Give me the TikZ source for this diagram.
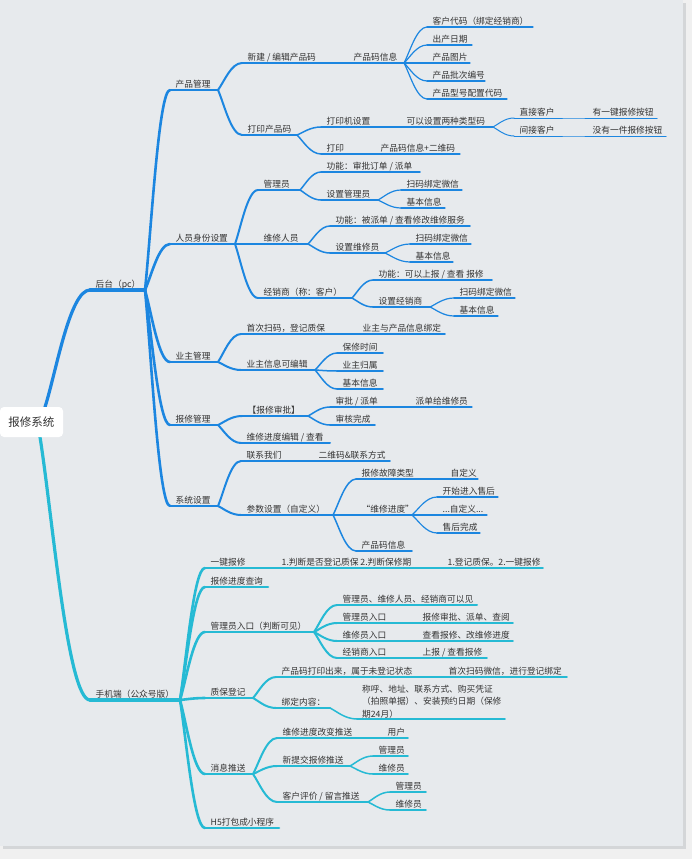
\documentclass[tikz,border=0pt]{standalone}
\usepackage{fontspec}
\newfontfamily\cjk{Noto Sans CJK SC}
\usetikzlibrary{calc}
\definecolor{bl}{HTML}{1C86E0}
\definecolor{tl}{HTML}{26BAD4}
\definecolor{tx}{HTML}{333333}
\definecolor{pan}{HTML}{E7EAED}
\definecolor{outc}{HTML}{F0F0F0}
\definecolor{shd}{HTML}{D4D6D8}
\tikzset{
  lbl/.style={font=\cjk\fontsize{8.7}{12.5}\selectfont, text=tx, inner sep=0pt, anchor=base west},
  rootbox/.style={font=\cjk\fontsize{11.5}{14}\selectfont, text=tx, fill=white, rounded corners=4pt,
    minimum width=63pt, minimum height=30pt, inner sep=0pt},
  wA/.style={line width=3.2pt, line cap=round},
  wB/.style={line width=2.6pt, line cap=round},
  wC/.style={line width=2.0pt, line cap=round},
  wD/.style={line width=1.5pt, line cap=round},
  wE/.style={line width=1.2pt, line cap=round},
  wF/.style={line width=1.0pt, line cap=round},
}
% node with underline: name, style, start x, line y, end x, text
\newcommand\nd[6]{%
  \coordinate (#1s) at (#3,#4);
  \coordinate (#1e) at (#5,#4);
  \draw[#2] (#1s) -- (#1e);
  \node[lbl] (#1) at ($(#1s)+(5.5,-2.8)$) {#6};}
% curved connector
\newcommand\cn[3]{\draw[#1] (#2) let \p1=(#2), \p2=(#3) in
  .. controls ({\x1+0.25*(\x2-\x1)},{\y1+0.3*(\y2-\y1)}) and ({\x1+0.55*(\x2-\x1)},{\y2}) .. (#3);}
\begin{document}
\begin{tikzpicture}[x=1pt,y=-1pt]
\useasboundingbox (0,0) rectangle (692,859);
\fill[outc] (0,0) rectangle (692,859);
\fill[shd] (3,3) rectangle (686,849);
\fill[pan] (0,0) rectangle (683,846);

\coordinate (rt) at (45,407);
\coordinate (rb) at (40,437);

% ===== 后台 =====
\nd{hou}{wA,bl}{90}{290}{145}{后台（pc）}
\cn{wA,bl}{rt}{hous}
\nd{cp}{wB,bl}{170}{90}{218}{产品管理}
\nd{ry}{wB,bl}{170}{244}{235}{人员身份设置}
\nd{yz}{wB,bl}{170}{362}{218}{业主管理}
\nd{bx}{wB,bl}{170}{425}{218}{报修管理}
\nd{xt}{wB,bl}{170}{506}{218}{系统设置}
\foreach \c in {cp,ry,yz,bx,xt} {\cn{wB,bl}{houe}{\c s}}

% 产品管理
\nd{xj}{wC,bl}{242}{63}{320}{新建 / 编辑产品码}
\nd{dy}{wC,bl}{242}{135}{297}{打印产品码}
\cn{wC,bl}{cpe}{xjs}
\cn{wC,bl}{cpe}{dys}
\nd{cpm}{wD,bl}{348}{63}{404}{产品码信息}
\cn{wD,bl}{xje}{cpms}
\nd{ka}{wE,bl}{427}{27}{533}{客户代码（绑定经销商）}
\nd{kb}{wE,bl}{427}{45}{472}{出产日期}
\nd{kc}{wE,bl}{427}{63}{470}{产品图片}
\nd{kd}{wE,bl}{427}{81}{485}{产品批次编号}
\nd{ke}{wE,bl}{427}{99}{507}{产品型号配置代码}
\foreach \c in {ka,kb,kc,kd,ke} {\cn{wE,bl}{cpme}{\c s}}
\nd{dyj}{wD,bl}{321}{127}{373}{打印机设置}
\nd{dyy}{wD,bl}{321}{154}{348}{打印}
\cn{wD,bl}{dye}{dyjs}
\cn{wD,bl}{dye}{dyys}
\nd{ky}{wE,bl}{401}{127}{493}{可以设置两种类型码}
\cn{wE,bl}{dyje}{kys}
\nd{dym}{wE,bl}{375}{154}{460}{产品码信息+二维码}
\cn{wE,bl}{dyye}{dyms}
\nd{zj}{wF,bl}{514}{118}{560}{直接客户}
\nd{jj}{wF,bl}{514}{136}{560}{间接客户}
\cn{wF,bl}{kye}{zjs}
\cn{wF,bl}{kye}{jjs}
\nd{zja}{wF,bl}{587}{118}{657}{有一键报修按钮}
\nd{jja}{wF,bl}{587}{136}{666}{没有一件报修按钮}
\cn{wF,bl}{zje}{zjas}
\cn{wF,bl}{jje}{jjas}

% 人员身份设置
\nd{gl}{wC,bl}{258}{190}{300}{管理员}
\nd{wx}{wC,bl}{258}{244}{308}{维修人员}
\nd{jx}{wC,bl}{258}{298}{352}{经销商（称：客户）}
\foreach \c in {gl,wx,jx} {\cn{wC,bl}{rye}{\c s}}
\nd{glgn}{wD,bl}{321}{172}{420}{功能：审批订单 / 派单}
\nd{glsz}{wD,bl}{321}{200}{378}{设置管理员}
\cn{wD,bl}{gle}{glgns}
\cn{wD,bl}{gle}{glszs}
\nd{gla}{wE,bl}{401}{190}{462}{扫码绑定微信}
\nd{glb}{wE,bl}{401}{208}{445}{基本信息}
\cn{wE,bl}{glsze}{glas}
\cn{wE,bl}{glsze}{glbs}
\nd{wxgn}{wD,bl}{330}{226}{470}{功能：被派单 / 查看修改维修服务}
\nd{wxsz}{wD,bl}{330}{253}{385}{设置维修员}
\cn{wD,bl}{wxe}{wxgns}
\cn{wD,bl}{wxe}{wxszs}
\nd{wxa}{wE,bl}{410}{244}{471}{扫码绑定微信}
\nd{wxb}{wE,bl}{410}{262}{453}{基本信息}
\cn{wE,bl}{wxsze}{wxas}
\cn{wE,bl}{wxsze}{wxbs}
\nd{jxgn}{wD,bl}{373}{280}{492}{功能：可以上报 / 查看 报修}
\nd{jxsz}{wD,bl}{373}{307}{430}{设置经销商}
\cn{wD,bl}{jxe}{jxgns}
\cn{wD,bl}{jxe}{jxszs}
\nd{jxa}{wE,bl}{454}{298}{515}{扫码绑定微信}
\nd{jxb}{wE,bl}{454}{316}{498}{基本信息}
\cn{wE,bl}{jxsze}{jxas}
\cn{wE,bl}{jxsze}{jxbs}

% 业主管理
\nd{sc}{wC,bl}{241}{334}{330}{首次扫码，登记质保}
\nd{yx}{wC,bl}{241}{370}{315}{业主信息可编辑}
\cn{wC,bl}{yze}{scs}
\cn{wC,bl}{yze}{yxs}
\nd{scb}{wD,bl}{357}{334}{445}{业主与产品信息绑定}
\cn{wD,bl}{sce}{scbs}
\nd{yxa}{wD,bl}{337}{353}{383}{保修时间}
\nd{yxb}{wD,bl}{337}{371}{383}{业主归属}
\nd{yxc}{wD,bl}{337}{389}{383}{基本信息}
\foreach \c in {yxa,yxb,yxc} {\cn{wD,bl}{yxe}{\c s}}

% 报修管理
\nd{sp}{wC,bl}{242}{416}{308}{【报修审批】}
\nd{jd}{wC,bl}{241}{443}{330}{维修进度编辑 / 查看}
\cn{wC,bl}{bxe}{sps}
\cn{wC,bl}{bxe}{jds}
\nd{spa}{wD,bl}{330}{407}{385}{审批 / 派单}
\nd{spb}{wD,bl}{330}{425}{375}{审核完成}
\cn{wD,bl}{spe}{spas}
\cn{wD,bl}{spe}{spbs}
\nd{spc}{wE,bl}{410}{407}{472}{派单给维修员}
\cn{wE,bl}{spae}{spcs}

% 系统设置
\nd{lx}{wC,bl}{241}{461}{287}{联系我们}
\nd{cs}{wC,bl}{241}{515}{333}{参数设置（自定义）}
\cn{wC,bl}{xte}{lxs}
\cn{wC,bl}{xte}{css}
\nd{lxa}{wD,bl}{313}{461}{390}{二维码\&联系方式}
\cn{wD,bl}{lxe}{lxas}
\nd{csa}{wD,bl}{356}{479}{418}{报修故障类型}
\nd{csb}{wD,bl}{356}{515}{412}{“维修进度”}
\nd{csc}{wD,bl}{356}{551}{412}{产品码信息}
\foreach \c in {csa,csb,csc} {\cn{wD,bl}{cse}{\c s}}
\nd{csaa}{wE,bl}{445}{479}{478}{自定义}
\cn{wE,bl}{csae}{csaas}
\nd{csba}{wE,bl}{437}{497}{498}{开始进入售后}
\nd{csbb}{wE,bl}{437}{515}{487}{...自定义...}
\nd{csbc}{wE,bl}{437}{533}{480}{售后完成}
\foreach \c in {csba,csbb,csbc} {\cn{wE,bl}{csbe}{\c s}}

% ===== 手机端 =====
\nd{shou}{wA,tl}{90}{700}{180}{手机端（公众号版）}
\cn{wA,tl}{rb}{shous}
\nd{yj}{wB,tl}{205}{568}{250}{一键报修}
\nd{cx}{wB,tl}{205}{587}{268}{报修进度查询}
\nd{gr}{wB,tl}{205}{632}{314}{管理员入口（判断可见）}
\nd{zb}{wB,tl}{205}{698}{253}{质保登记}
\nd{xx}{wB,tl}{205}{774}{253}{消息推送}
\nd{hf}{wB,tl}{205}{828}{279}{H5打包成小程序}
\foreach \c in {yj,cx,gr,zb,xx,hf} {\cn{wB,tl}{shoue}{\c s}}

\nd{pd}{wC,tl}{276}{568}{417}{1.判断是否登记质保 2.判断保修期}
\cn{wC,tl}{yje}{pds}
\nd{pdj}{wD,tl}{442}{568}{543}{1.登记质保。2.一键报修}
\cn{wD,tl}{pde}{pdjs}

\nd{gra}{wC,tl}{337}{605}{477}{管理员、维修人员、经销商可以见}
\nd{grb}{wC,tl}{337}{623}{392}{管理员入口}
\nd{grc}{wC,tl}{337}{641}{392}{维修员入口}
\nd{grd}{wC,tl}{337}{658}{392}{经销商入口}
\foreach \c in {gra,grb,grc,grd} {\cn{wC,tl}{gre}{\c s}}
\nd{grba}{wD,tl}{417}{623}{513}{报修审批、派单、查阅}
\nd{grca}{wD,tl}{417}{641}{513}{查看报修、改维修进度}
\nd{grda}{wD,tl}{417}{658}{487}{上报 / 查看报修}
\cn{wD,tl}{grbe}{grbas}
\cn{wD,tl}{grce}{grcas}
\cn{wD,tl}{grde}{grdas}

\nd{zba}{wC,tl}{276}{677}{417}{产品码打印出来，属于未登记状态}
\nd{zbb}{wC,tl}{276}{708}{330}{绑定内容：}
\cn{wC,tl}{zbe}{zbas}
\cn{wC,tl}{zbe}{zbbs}
\nd{zbaa}{wD,tl}{443}{677}{567}{首次扫码微信，进行登记绑定}
\cn{wD,tl}{zbae}{zbaas}
\coordinate (zbbas) at (357,719);
\coordinate (zbbae) at (505,719);
\draw[wD,tl] (zbbas) -- (zbbae);
\cn{wD,tl}{zbbe}{zbbas}
\node[lbl, align=left, anchor=north west] (zbba) at (362,684.5) {称呼、地址、联系方式、购买凭证\\（拍照单据）、安装预约日期（保修\\期24月）};

\nd{xxa}{wC,tl}{277}{738}{355}{维修进度改变推送}
\nd{xxb}{wC,tl}{277}{766}{350}{新提交报修推送}
\nd{xxc}{wC,tl}{277}{802}{368}{客户评价 / 留言推送}
\foreach \c in {xxa,xxb,xxc} {\cn{wC,tl}{xxe}{\c s}}
\nd{xxaa}{wD,tl}{382}{738}{408}{用户}
\cn{wD,tl}{xxae}{xxaas}
\nd{xxba}{wD,tl}{373}{756}{408}{管理员}
\nd{xxbb}{wD,tl}{373}{774}{408}{维修员}
\cn{wD,tl}{xxbe}{xxbas}
\cn{wD,tl}{xxbe}{xxbbs}
\nd{xxca}{wD,tl}{390}{792}{426}{管理员}
\nd{xxcb}{wD,tl}{390}{810}{426}{维修员}
\cn{wD,tl}{xxce}{xxcas}
\cn{wD,tl}{xxce}{xxcbs}

% root
\node[rootbox] (root) at (31.5,422) {报修系统};
\end{tikzpicture}
\end{document}
